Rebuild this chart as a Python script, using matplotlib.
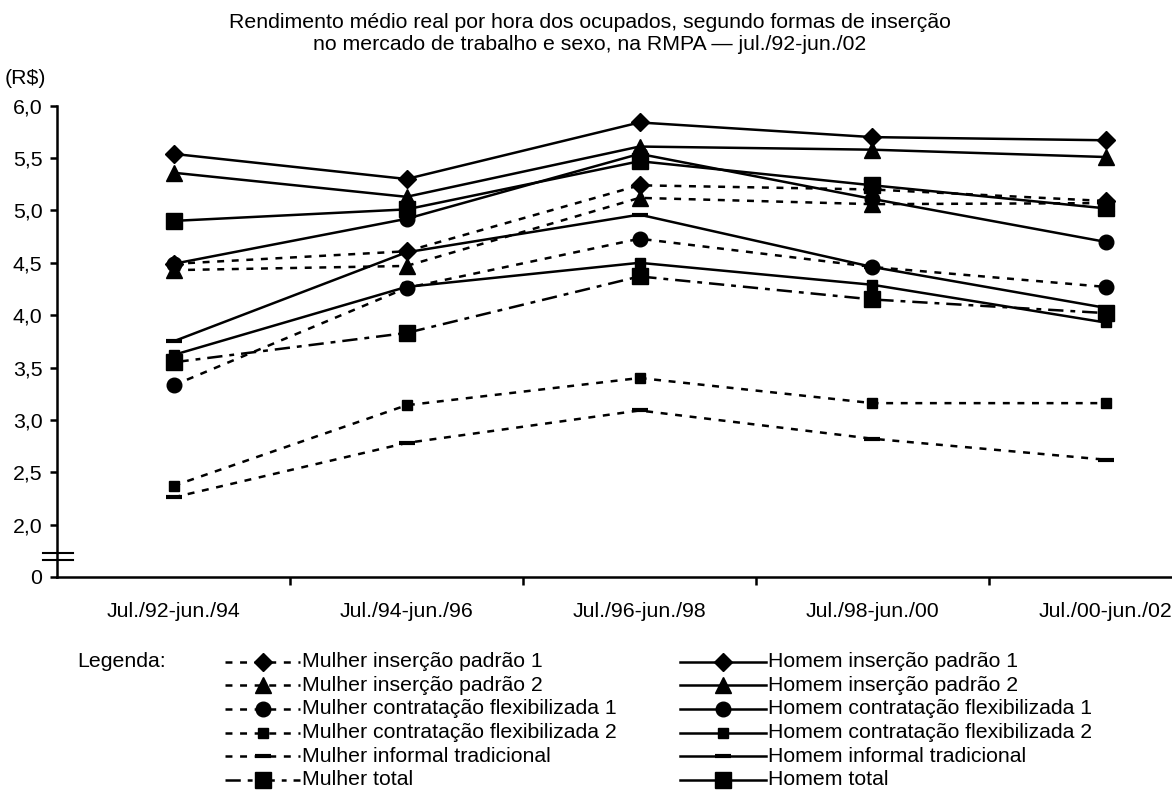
import matplotlib
matplotlib.use("Agg")
import matplotlib.pyplot as plt
from matplotlib.lines import Line2D

plt.rcParams["font.family"] = ["Liberation Sans", "DejaVu Sans"]
plt.rcParams["lines.scale_dashes"] = False

# ─── Data ───────────────────────────────────────────────────────────
categories = ["Jul./92-jun./94", "Jul./94-jun./96", "Jul./96-jun./98",
              "Jul./98-jun./00", "Jul./00-jun./02"]

mulher_padrao1  = [4.49, 4.61, 5.24, 5.20, 5.09]
mulher_padrao2  = [4.43, 4.47, 5.12, 5.06, 5.07]
mulher_flex1    = [3.33, 4.26, 4.73, 4.46, 4.27]
mulher_flex2    = [2.37, 3.14, 3.40, 3.16, 3.16]
mulher_informal = [2.26, 2.78, 3.09, 2.82, 2.62]
mulher_total    = [3.55, 3.83, 4.37, 4.15, 4.02]

homem_padrao1   = [5.54, 5.30, 5.84, 5.70, 5.67]
homem_padrao2   = [5.36, 5.13, 5.61, 5.58, 5.51]
homem_flex1     = [4.49, 4.92, 5.54, 5.11, 4.70]
homem_flex2     = [3.62, 4.27, 4.50, 4.29, 3.93]
homem_informal  = [3.75, 4.60, 4.96, 4.46, 4.07]
homem_total     = [4.90, 5.01, 5.47, 5.24, 5.02]

yticks = [2.0, 2.5, 3.0, 3.5, 4.0, 4.5, 5.0, 5.5, 6.0]

title_1 = "Rendimento médio real por hora dos ocupados, segundo formas de inserção"
title_2 = "no mercado de trabalho e sexo, na RMPA — jul./92-jun./02"

# ─── Styles ─────────────────────────────────────────────────────────
W, H = 1172, 792
FS = 15.3
LW = 1.8
DASH = (0, (5, 5.5))
DASHDOT = (0, (11, 5, 3.5, 5))
SOLID = "-"

# (label, values, marker, markersize, linestyle)
mulher = [
    ("Mulher inserção padrão 1", mulher_padrao1, "D", 9, DASH),
    ("Mulher inserção padrão 2", mulher_padrao2, "^", 11, DASH),
    ("Mulher contratação flexibilizada 1", mulher_flex1, "o", 10.5, DASH),
    ("Mulher contratação flexibilizada 2", mulher_flex2, "s", 7, DASH),
    ("Mulher informal tradicional", mulher_informal, "_", 11, DASH),
    ("Mulher total", mulher_total, "s", 11, DASHDOT),
]
homem = [
    ("Homem inserção padrão 1", homem_padrao1, "D", 9, SOLID),
    ("Homem inserção padrão 2", homem_padrao2, "^", 11, SOLID),
    ("Homem contratação flexibilizada 1", homem_flex1, "o", 10.5, SOLID),
    ("Homem contratação flexibilizada 2", homem_flex2, "s", 7, SOLID),
    ("Homem informal tradicional", homem_informal, "_", 11, SOLID),
    ("Homem total", homem_total, "s", 11, SOLID),
]


def style(marker, ms, ls):
    return dict(color="black", linestyle=ls, linewidth=LW, marker=marker,
                markersize=ms, markerfacecolor="black", markeredgecolor="black",
                markeredgewidth=3 if marker == "_" else 1)


fig = plt.figure(figsize=(W / 100, H / 100), dpi=100)
ax = fig.add_axes([57 / W, (H - 577) / H, (1222 - 57) / W, (577 - 105.7) / H])

x = list(range(len(categories)))
for label, vals, mk, ms, ls in mulher + homem:
    ax.plot(x, vals, **style(mk, ms, ls), clip_on=False)

# ─── Axes ───────────────────────────────────────────────────────────
ax.set_xlim(-0.5, 4.5)
ax.set_ylim(1.5, 6.0)
for s in ("top", "right"):
    ax.spines[s].set_visible(False)
for s in ("left", "bottom"):
    ax.spines[s].set_linewidth(1.8)

ax.set_yticks([1.5] + yticks)
ax.set_yticklabels(["0"] + [f"{v:.1f}".replace(".", ",") for v in yticks],
                   fontsize=FS)
ax.tick_params(axis="y", length=5, width=1.8, pad=5.5, direction="out")

ax.set_xticks(x)
ax.set_xticklabels(categories, fontsize=FS)
ax.set_xticks([i + 0.5 for i in x], minor=True)
ax.tick_params(axis="x", which="major", length=0, pad=18)
ax.tick_params(axis="x", which="minor", length=5.5, width=1.8, direction="out")

# axis break marks
brk = ax.get_yaxis_transform()
for yb in (1.732, 1.662):
    ax.plot([-0.012, 0.0137], [yb, yb], color="black", lw=1.5,
            transform=brk, clip_on=False)

# ─── Titles ─────────────────────────────────────────────────────────
fig.text(590 / W, 1 - 22 / H, title_1, ha="center", va="center", fontsize=FS)
fig.text(590 / W, 1 - 44 / H, title_2, ha="center", va="center", fontsize=FS)
fig.text(5 / W, 1 - 78 / H, "(R$)", ha="left", va="center", fontsize=FS)

# ─── Legend (drawn by hand, two columns) ────────────────────────────
fig.text(77 / W, 1 - 661.7 / H, "Legenda:", ha="left", va="center", fontsize=FS)


def legend_column(entries, x0, x1):
    for i, (label, vals, mk, ms, ls) in enumerate(entries):
        yy = 1 - (661.7 + i * 23.6) / H
        xs = [x0 / W, (x0 + x1) / 2 / W, x1 / W]
        fig.add_artist(Line2D(xs, [yy] * 3, transform=fig.transFigure,
                              markevery=[1], **style(mk, ms, ls)))
        fig.text((x1 + 2) / W, yy, label, ha="left", va="center", fontsize=FS)


legend_column(mulher, 225, 300)
legend_column(homem, 680, 766)

fig.savefig("out.png", dpi=100)
